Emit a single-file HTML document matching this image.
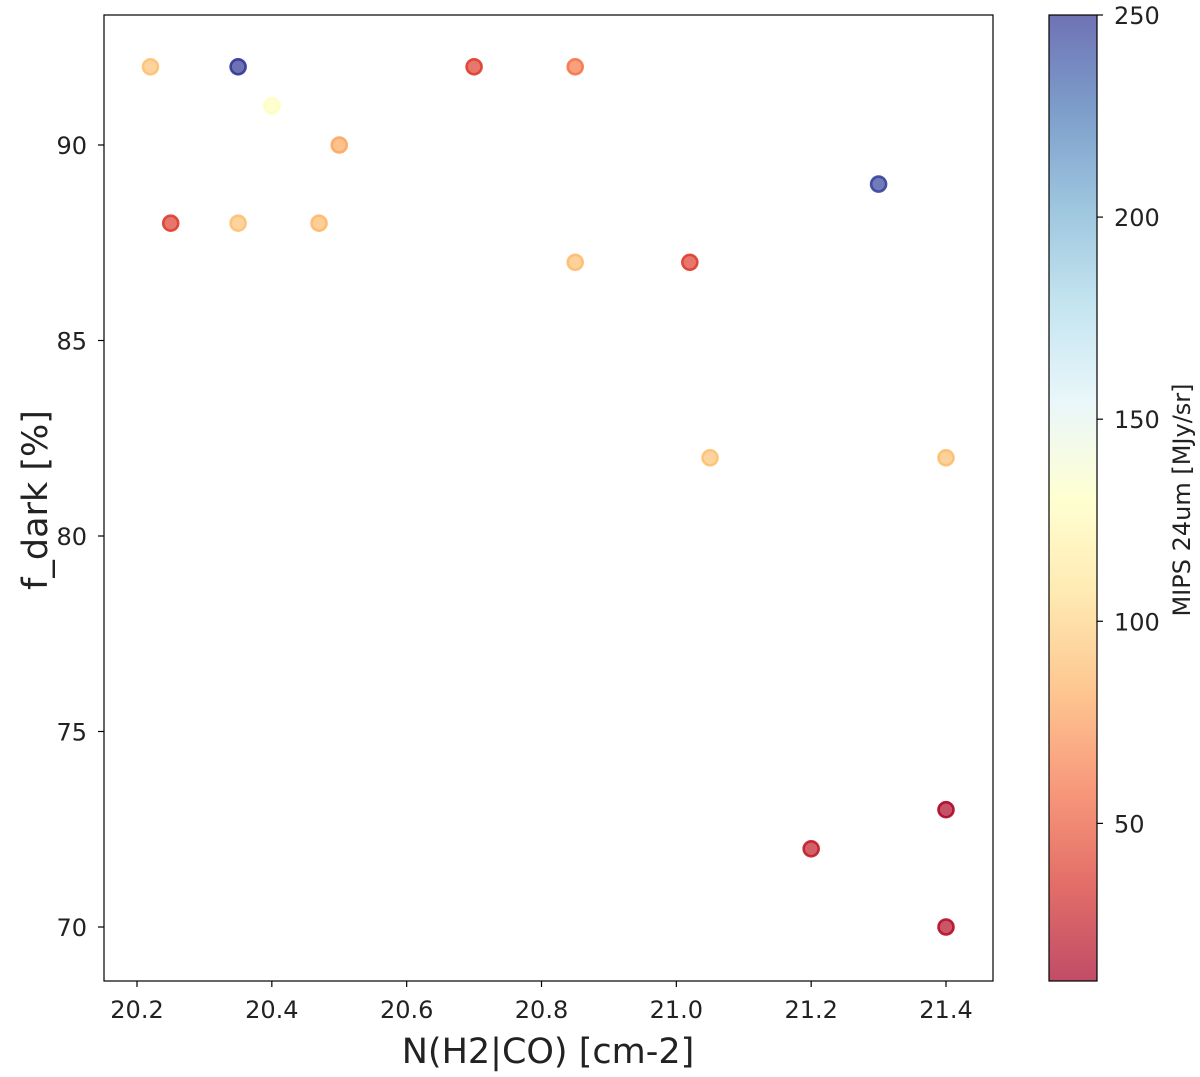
<!DOCTYPE html>
<html><head><meta charset="utf-8"><style>
html,body{margin:0;padding:0;background:#fff;}
svg{display:block;font-family:"DejaVu Sans","Liberation Sans",sans-serif;}
</style></head><body>
<svg id="chart" width="1200" height="1077">
<defs><linearGradient id="cbgrad" x1="0" y1="1" x2="0" y2="0"></linearGradient></defs>
<g id="plot"></g>
</svg>
<script>
const xs = [20.22,20.35,20.40,20.50,20.25,20.35,20.47,20.70,20.85,20.85,21.02,21.30,21.05,21.40,21.40,21.20,21.40];
const ys = [92,92,91,90,88,88,88,92,92,87,87,89,82,82,73,72,70];
const mips = [92,250,130,80,40,92,88,40,62,90,40,245,92,90,15,25,18];
const xTicks = [20.2,20.4,20.6,20.8,21.0,21.2,21.4];
const yTicks = [70,75,80,85,90];
const cTicks = [50,100,150,200,250];

const NS='http://www.w3.org/2000/svg';
const g=document.getElementById('plot');
const L=104,R=993,T=15,B=981;
const xS=v=>137+(v-20.2)*(946-137)/1.2;
const yS=v=>145+(90-v)*39.1;
const cMin=11,cMax=250,cbL=1049,cbR=1097;
const cS=v=>981-(v-cMin)/(cMax-cMin)*(981-15);
const stops=[[165,0,38],[215,48,39],[244,109,67],[253,174,97],[254,224,144],[255,255,191],[224,243,248],[171,217,233],[116,173,209],[69,117,180],[49,54,149]];
function cmap(t){t=Math.max(0,Math.min(1,t));const p=t*10,i=Math.min(9,Math.floor(p)),f=p-i;const a=stops[i],b=stops[i+1];return 'rgb('+a.map((c,k)=>Math.round(c+(b[k]-c)*f)).join(',')+')';}
function el(tag,attrs,parent){const e=document.createElementNS(NS,tag);for(const k in attrs)e.setAttribute(k,attrs[k]);(parent||g).appendChild(e);return e;}
function txt(s,attrs){const e=el('text',attrs);e.textContent=s;return e;}

const frame=el('rect',{x:L,y:T,width:R-L,height:B-T,fill:'none',stroke:'#000','stroke-width':1.2});



xTicks.forEach(v=>{
  const x=xS(v);
  const t=el('line',{x1:x,x2:x,y1:B,y2:B+6,stroke:'#000','stroke-width':1.2});
  
  
  const l=txt(v.toFixed(1),{x:x,y:B+37,'text-anchor':'middle','font-size':24,fill:'#222'});
  
  
});
yTicks.forEach(v=>{
  const y=yS(v);
  const t=el('line',{x1:L-6,x2:L,y1:y,y2:y,stroke:'#000','stroke-width':1.2});
  
  
  const l=txt(String(v),{x:L-17,y:y+9,'text-anchor':'end','font-size':24,fill:'#222'});
  
  
});
const xl=txt('N(H2|CO) [cm-2]',{x:548,y:1063,'text-anchor':'middle','font-size':35,fill:'#222'});


const yl=txt('f_dark [%]',{x:0,y:0,'text-anchor':'middle','font-size':35,fill:'#222',transform:'translate(47,500) rotate(-90)'});



xs.forEach((xv,i)=>{
  const c=cmap((mips[i]-cMin)/(cMax-cMin));
  const p=el('circle',{cx:xS(xv),cy:yS(ys[i]),r:7.5,fill:c,'fill-opacity':0.7,stroke:c,'stroke-opacity':0.9,'stroke-width':2.6});
  
  
});

const grad=document.getElementById('cbgrad');
for(let i=0;i<=20;i++){el('stop',{offset:(i/20),'stop-color':cmap(i/20),'stop-opacity':0.7},grad);}
const cb=el('rect',{x:cbL,y:T,width:cbR-cbL,height:B-T,fill:'url(#cbgrad)',stroke:'#000','stroke-width':1.2});


cTicks.forEach(v=>{
  const y=cS(v);
  const t=el('line',{x1:cbR,x2:cbR+6,y1:y,y2:y,stroke:'#000','stroke-width':1.2});
  
  
  const l=txt(String(v),{x:cbR+17,y:y+9,'font-size':24,fill:'#222'});
  
  
});
const cl=txt('MIPS 24um [MJy/sr]',{x:0,y:0,'text-anchor':'middle','font-size':24,fill:'#222',transform:'translate(1190,500) rotate(-90)'});


</script>
</body></html>
